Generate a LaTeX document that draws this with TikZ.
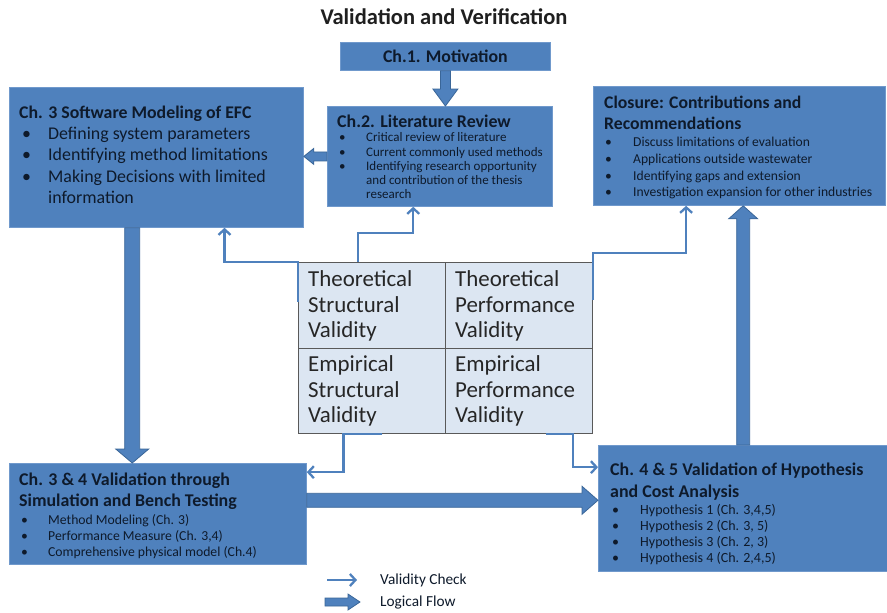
\documentclass[tikz,border=0pt]{standalone}
\usepackage{fontspec}
\setmainfont{Carlito}
\usetikzlibrary{arrows.meta,calc}
\definecolor{boxblue}{HTML}{4F81BD}
\definecolor{boxedge}{HTML}{7099CC}
\definecolor{flowedge}{HTML}{3A6698}
\definecolor{gridfill}{HTML}{DCE6F2}
\definecolor{gridedge}{HTML}{595959}
\definecolor{checkblue}{HTML}{4F81BD}
\definecolor{boxtext}{HTML}{0E1A2B}
\newcommand\bulletline[2][27pt]{\makebox[#1][l]{\textbullet}#2}
\newcommand\flowarrow[5]{%
  \coordinate (faS) at (#1);
  \coordinate (faE) at (#2);
  \coordinate (faB) at ($(faE)!#5!(faS)$);
  \filldraw[flow] ($(faS)!#3!90:(faE)$) -- ($(faB)!#3!-90:(faS)$) -- ($(faB)!#4!-90:(faS)$) -- (faE) -- ($(faB)!#4!90:(faS)$) -- ($(faB)!#3!90:(faS)$) -- ($(faS)!#3!-90:(faE)$) -- cycle;
}
\tikzset{
  box/.style={draw=boxedge, line width=0.8pt, fill=boxblue, anchor=north west, inner sep=0pt},
  txt/.style={anchor=north west, inner sep=0pt, align=left, text=boxtext},
  flow/.style={fill=boxblue, draw=flowedge, line width=0.8pt, line join=miter},
  check/.style={draw=checkblue, line width=2.3pt, line join=miter, -{Straight Barb[length=5.5pt,width=12pt]}},
  cell/.style={anchor=north west, inner sep=0pt, align=left, text=black!85, font=\fontsize{22.9}{25.5}\selectfont},
}
\begin{document}
\begin{tikzpicture}[x=1pt,y=-1pt]
\fill[white] (0,0) rectangle (887,613);
\useasboundingbox (0,0) rectangle (887,613);

\node[font=\bfseries\fontsize{22.5}{24}\selectfont, text=black!88] (title) at (444,17) {Validation and Verification};

% boxes
\node[box, minimum width=210pt, minimum height=28pt] (mot) at (340,42) {};
\node[box, minimum width=225pt, minimum height=100pt] (lit) at (327,106) {};
\node[box, minimum width=294pt, minimum height=140pt] (ch3) at (9,87) {};
\node[box, minimum width=292pt, minimum height=119pt] (clo) at (593,86) {};
\node[box, minimum width=297pt, minimum height=101pt] (v34) at (9,463) {};
\node[box, minimum width=289pt, minimum height=126pt] (v45) at (598,445) {};

% grid
\node[draw=gridedge, line width=1pt, fill=gridfill, anchor=north west, inner sep=0pt, minimum width=294pt, minimum height=171pt] (grid) at (298,262) {};
\draw[gridedge, line width=1pt] (grid.north) -- (grid.south);
\draw[gridedge, line width=1pt] (grid.west) -- (grid.east);
\node[cell] (tsv) at (308,270.4) {Theoretical\\Structural\\Validity};
\node[cell] (tpv) at (455,270.4) {Theoretical\\Performance\\Validity};
\node[cell] (esv) at (308,355.4) {Empirical\\Structural\\Validity};
\node[cell] (epv) at (455,355.4) {Empirical\\Performance\\Validity};

% texts
\node[font=\bfseries\fontsize{17.8}{20}\selectfont, text=boxtext] (mott) at (mot.center) {Ch.1. Motivation};

\node[txt, font=\bfseries\fontsize{17.8}{21}\selectfont] (ch3t) at (19,105.5) {Ch. 3 Software Modeling of EFC};
\node[txt, font=\fontsize{17.9}{21.5}\selectfont] (ch3l) at (22,126.5) {\bulletline[26pt]{Defining system parameters}\\\bulletline[26pt]{Identifying method limitations}\\\bulletline[26pt]{Making Decisions with limited}\\\hspace*{26pt}information};

\node[txt, font=\bfseries\fontsize{17.9}{20}\selectfont] (litt) at (337,114.5) {Ch.2. Literature Review};
\node[txt, font=\fontsize{13}{14.3}\selectfont] (litl) at (339,132.5) {\bulletline{Critical review of literature}\\\bulletline{Current commonly used methods}\\\bulletline{Identifying research opportunity}\\\hspace*{27pt}and contribution of the thesis\\\hspace*{27pt}research};

\node[txt, font=\bfseries\fontsize{17.7}{21}\selectfont] (clot) at (604,95.5) {Closure: Contributions and\\Recommendations};
\node[txt, font=\fontsize{13.6}{16.7}\selectfont] (clol) at (605,137) {\bulletline[28pt]{Discuss limitations of evaluation}\\\bulletline[28pt]{Applications outside wastewater}\\\bulletline[28pt]{Identifying gaps and extension}\\\bulletline[28pt]{Investigation expansion for other industries}};

\node[txt, font=\bfseries\fontsize{17.9}{21}\selectfont] (v34t) at (19,472.5) {Ch. 3 \& 4 Validation through\\Simulation and Bench Testing};
\node[txt, font=\fontsize{13.7}{16}\selectfont] (v34l) at (21,514.2) {\bulletline{Method Modeling (Ch. 3)}\\\bulletline{Performance Measure (Ch. 3,4)}\\\bulletline{Comprehensive physical model (Ch.4)}};

\node[txt, font=\bfseries\fontsize{17.9}{22}\selectfont] (v45t) at (610,462.5) {Ch. 4 \& 5 Validation of Hypothesis\\and Cost Analysis};
\node[txt, font=\fontsize{14}{16}\selectfont] (v45l) at (612,504) {\bulletline[28pt]{Hypothesis 1 (Ch. 3,4,5)}\\\bulletline[28pt]{Hypothesis 2 (Ch. 3, 5)}\\\bulletline[28pt]{Hypothesis 3 (Ch. 2, 3)}\\\bulletline[28pt]{Hypothesis 4 (Ch. 2,4,5)}};

% logical flow arrows
\flowarrow{mot.south}{mot.south |- lit.north}{5pt}{12.5pt}{17pt}
\flowarrow{lit.west}{lit.west -| ch3.east}{4.5pt}{8pt}{10pt}
\coordinate (f3) at ($(ch3.south west)!0.418!(ch3.south east)$);
\flowarrow{f3}{f3 |- v34.north}{7.5pt}{16.5pt}{14pt}
\coordinate (f4) at ($(v34.north east)!0.366!(v34.south east)$);
\flowarrow{f4}{f4 -| v45.west}{7pt}{14pt}{16pt}
\coordinate (f5) at ($(v45.north west)!0.501!(v45.north east)$);
\flowarrow{f5}{f5 |- clo.south}{6.5pt}{14.5pt}{13pt}

% validity check arrows
\coordinate (a1) at ($(grid.north west)!0.23!(grid.south west)$);
\coordinate (a2) at ($(ch3.south west)!0.731!(ch3.south east)$);
\draw[check] (a1) -- (grid.north west) -| (a2);
\coordinate (b1) at ($(grid.north west)!0.204!(grid.north east)$);
\coordinate (b2) at ($(lit.south west)!0.382!(lit.south east)$);
\draw[check] (b1) -- ++(0,-29) -| (b2);
\coordinate (c1) at ($(grid.north east)!0.22!(grid.south east)$);
\coordinate (c2) at ($(clo.south west)!0.318!(clo.south east)$);
\draw[check] (c1) -- ++(0,-47) -| (c2);
\coordinate (d1) at ($(grid.south west)!0.286!(grid.south east)$);
\coordinate (d2) at ($(v34.north east)!0.09!(v34.south east)$);
\draw[check] (d1) -- ++(-39,0) |- (d2);
\coordinate (e1) at ($(grid.south west)!0.84!(grid.south east)$);
\coordinate (e2) at ($(v45.north west)!0.175!(v45.south west)$);
\draw[check] (e1) -- ++(27,0) |- (e2);

% legend
\node[anchor=west, inner sep=0pt, font=\fontsize{15.3}{17}\selectfont, text=boxtext] (lvc) at (380,580) {Validity Check};
\node[anchor=west, inner sep=0pt, font=\fontsize{15.3}{17}\selectfont, text=boxtext] (llf) at (380,602) {Logical Flow};
\draw[check] ([xshift=-53pt]lvc.west) -- ([xshift=-23pt]lvc.west);
\flowarrow{[xshift=-55pt]llf.west}{[xshift=-20pt]llf.west}{4pt}{8pt}{12pt}
\end{tikzpicture}
\end{document}
